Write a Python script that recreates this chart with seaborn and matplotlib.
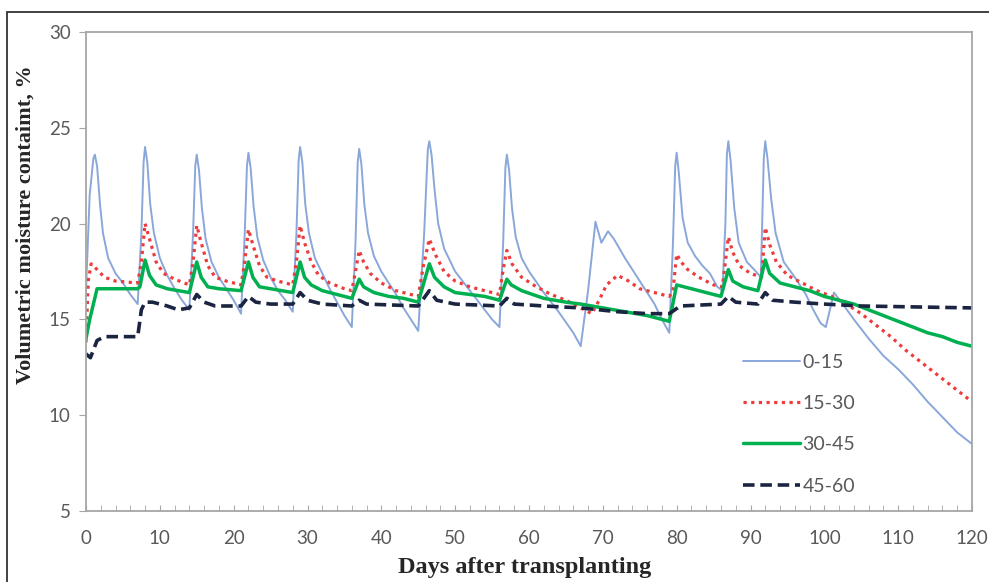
import numpy as np
import pandas as pd
import seaborn as sns
import matplotlib.pyplot as plt
import matplotlib.ticker as mtick
from matplotlib.patches import Rectangle

# ---- data: (day, volumetric moisture %) ----
days_0_15 = [0, 0.5, 1.0, 1.2, 1.5, 1.9, 2.3, 3, 4, 5, 6, 7,
             7.5, 7.8, 8, 8.3, 8.7, 9.2, 10, 11, 12, 13, 14,
             14.5, 14.8, 15, 15.3, 15.7, 16.2, 17, 18, 19, 20, 21,
             21.5, 21.8, 22, 22.3, 22.7, 23.2, 24, 25, 26, 27, 28,
             28.5, 28.8, 29, 29.3, 29.7, 30.2, 31, 32, 33, 34, 35, 36,
             36.5, 36.8, 37, 37.3, 37.7, 38.2, 39, 40, 41, 42, 43, 44, 45,
             45.8, 46.3, 46.5, 46.8, 47.2, 47.7, 48.5, 50, 51, 52, 53, 54, 55, 56,
             56.5, 56.8, 57, 57.3, 57.7, 58.2, 59, 60, 62, 64, 66, 67,
             68, 69, 69.8, 70.7, 71.5, 73, 75, 77, 78, 79,
             79.5, 79.8, 80, 80.3, 80.8, 81.5, 82.5, 83.5, 84.5, 85.5, 86.2,
             86.6, 86.8, 87, 87.3, 87.8, 88.4, 89.5, 90.5, 91.4,
             91.8, 92, 92.3, 92.8, 93.4, 94.5, 96, 97.5, 98.5, 99.5, 100.2,
             101.3, 102.5, 104, 106, 108, 110, 112, 114, 116, 118, 120]
vals_0_15 = [16.5, 21.5, 23.4, 23.6, 23.0, 21.0, 19.5, 18.2, 17.4, 16.9, 16.3, 15.8,
             19.5, 23.2, 24.0, 23.2, 21.0, 19.5, 18.2, 17.3, 16.6, 16.0, 15.5,
             19.5, 23.0, 23.6, 22.8, 20.8, 19.2, 18.0, 17.2, 16.6, 16.0, 15.3,
             19.5, 23.0, 23.7, 22.9, 20.9, 19.3, 18.1, 17.2, 16.5, 16.0, 15.4,
             19.5, 23.3, 24.0, 23.2, 21.0, 19.5, 18.2, 17.4, 16.6, 15.9, 15.2, 14.6,
             19.0, 23.2, 23.9, 23.1, 21.0, 19.5, 18.3, 17.5, 16.9, 16.3, 15.6, 15.0, 14.4,
             19.5, 23.9, 24.3, 23.6, 21.8, 20.0, 18.7, 17.5, 17.0, 16.5, 16.0, 15.5, 15.0, 14.6,
             19.0, 22.9, 23.6, 22.8, 20.8, 19.3, 18.2, 17.5, 16.4, 15.4, 14.3, 13.6,
             16.5, 20.1, 19.0, 19.6, 19.2, 18.2, 17.0, 15.8, 15.0, 14.3,
             19.0, 23.0, 23.7, 22.6, 20.3, 19.0, 18.3, 17.8, 17.4, 16.7, 16.5,
             20.0, 23.6, 24.3, 23.3, 20.8, 19.0, 18.0, 17.6, 17.2,
             23.4, 24.3, 23.4, 21.3, 19.5, 18.0, 17.2, 16.3, 15.5, 14.8, 14.6,
             16.4, 15.8, 15.0, 14.0, 13.1, 12.4, 11.6, 10.7, 9.9, 9.1, 8.5]

days_15_30 = [0, 0.3, 0.7, 1.5, 2.5, 4, 7,
              7.5, 8, 8.6, 9.5, 10.5, 12, 14,
              14.5, 15, 15.6, 16.5, 17.5, 19, 21,
              21.5, 22, 22.6, 23.5, 24.5, 26, 28,
              28.5, 29, 29.6, 30.5, 31.5, 33, 35, 36,
              36.5, 37, 37.6, 38.5, 40, 42, 44, 45,
              45.7, 46.5, 47.3, 48.5, 50, 52, 54, 56,
              56.5, 57, 57.7, 59, 61, 63, 65, 67, 68.5,
              69.5, 70.5, 72, 73.5, 75, 77, 79,
              79.5, 80, 80.6, 81.5, 83, 85, 86.2,
              86.6, 87, 87.6, 88.5, 90, 91.5,
              92, 92.6, 93.5, 95, 97, 99, 101, 103, 105, 107, 109, 111, 113, 115, 117, 119, 120]
vals_15_30 = [13.8, 17.0, 17.9, 17.6, 17.2, 17.0, 16.9,
              18.0, 20.0, 19.2, 18.0, 17.4, 17.1, 16.8,
              18.0, 19.9, 19.0, 17.8, 17.2, 17.0, 16.8,
              18.0, 19.7, 18.9, 17.8, 17.2, 17.0, 16.8,
              18.0, 19.9, 19.0, 18.0, 17.3, 16.9, 16.6, 16.5,
              17.5, 18.6, 18.0, 17.4, 16.9, 16.5, 16.3, 16.2,
              17.8, 19.2, 18.4, 17.5, 17.0, 16.7, 16.5, 16.3,
              17.6, 18.6, 17.9, 17.2, 16.7, 16.3, 16.0, 15.6, 15.3,
              16.0, 16.8, 17.3, 17.0, 16.6, 16.4, 16.2,
              16.5, 18.4, 18.0, 17.6, 17.2, 16.8, 16.7,
              18.0, 19.3, 18.5, 17.8, 17.4, 17.2,
              19.8, 18.9, 18.0, 17.3, 16.9, 16.5, 16.2, 15.8, 15.3, 14.7, 14.1, 13.4, 12.8, 12.2, 11.6, 11.0, 10.7]

days_30_45 = [0, 0.5, 1.5, 4, 7, 7.3,
              8, 8.6, 9.5, 11, 14,
              15, 15.6, 16.5, 18, 21,
              22, 22.6, 23.5, 25, 28,
              29, 29.6, 30.5, 32, 34, 36,
              37, 37.6, 39, 41, 43, 45,
              46.5, 47.2, 48.5, 50, 52, 54, 56,
              57, 57.6, 59, 62, 65, 67, 70, 73, 76, 79,
              80, 82, 84, 86,
              87, 87.6, 89, 91,
              92, 92.6, 94, 96, 98, 100, 102, 104, 106, 108, 110, 112, 114, 116, 118, 120]
vals_30_45 = [14.0, 15.0, 16.6, 16.6, 16.6, 16.7,
              18.1, 17.3, 16.8, 16.6, 16.4,
              18.0, 17.2, 16.7, 16.6, 16.5,
              18.0, 17.2, 16.7, 16.6, 16.4,
              18.0, 17.2, 16.8, 16.5, 16.3, 16.1,
              17.1, 16.7, 16.4, 16.2, 16.1, 15.9,
              17.9, 17.2, 16.7, 16.4, 16.3, 16.2, 16.0,
              17.1, 16.8, 16.5, 16.1, 15.9, 15.8, 15.6, 15.4, 15.2, 14.9,
              16.8, 16.6, 16.4, 16.2,
              17.6, 17.0, 16.7, 16.5,
              18.1, 17.4, 16.9, 16.7, 16.5, 16.2, 16.0, 15.8, 15.5, 15.2, 14.9, 14.6, 14.3, 14.1, 13.8, 13.6]

days_45_60 = [0, 0.6, 1.5, 2.5, 7, 7.5, 8, 9, 11, 12.5, 14,
              15, 16, 17.5, 21, 22, 23, 25, 28, 29, 30, 32, 36,
              37, 38, 45, 46.5, 47.5, 50, 56, 57, 58, 62, 67, 72, 76, 79,
              80.5, 86, 87, 88, 91, 92, 93, 96, 100, 105, 120]
vals_45_60 = [13.2, 13.0, 13.9, 14.1, 14.1, 15.5, 15.9, 15.9, 15.7, 15.5, 15.6,
              16.3, 15.9, 15.7, 15.7, 16.2, 15.9, 15.8, 15.8, 16.4, 16.0, 15.8, 15.7,
              16.0, 15.8, 15.7, 16.5, 16.0, 15.8, 15.7, 16.1, 15.8, 15.7, 15.6, 15.4, 15.3, 15.3,
              15.7, 15.8, 16.2, 15.9, 15.8, 16.4, 16.0, 15.9, 15.8, 15.7, 15.6]

series = [("0-15", days_0_15, vals_0_15),
          ("15-30", days_15_30, vals_15_30),
          ("30-45", days_30_45, vals_30_45),
          ("45-60", days_45_60, vals_45_60)]

styles = {"0-15": dict(color="#8AA7DA", lw=1.4, ls="-"),
          "15-30": dict(color="#EE3B3B", lw=2.3, ls=(0, (1, 1.4))),
          "30-45": dict(color="#00B050", lw=2.5, ls="-"),
          "45-60": dict(color="#1B2440", lw=2.6, ls=(0, (3.2, 1.6)))}

sns.set_style("white")
plt.rcParams['font.family'] = ['Lato', 'DejaVu Sans']

fig = plt.figure(figsize=(9.89, 5.82), dpi=100)
ax = fig.add_axes([86/989, 1-511/582, (972-86)/989, (511-32)/582])

for name, d, v in series:
    df = pd.DataFrame({"day": d, "vmc": v})
    st = styles[name]
    sns.lineplot(data=df, x="day", y="vmc", ax=ax, sort=False, estimator=None,
                 color=st["color"], linewidth=st["lw"], linestyle=st["ls"], label=name)

ax.set_xlim(0, 120)
ax.set_ylim(5, 30)
ax.xaxis.set_major_locator(mtick.MultipleLocator(10))
ax.xaxis.set_minor_locator(mtick.MultipleLocator(2))
ax.yaxis.set_major_locator(mtick.MultipleLocator(5))

for s in ax.spines.values():
    s.set_color("#A6A6A6")
    s.set_linewidth(1.3)

ax.tick_params(axis="x", which="both", direction="in", length=4, color="#A6A6A6",
               labelsize=13.5, labelcolor="#595959", pad=14, bottom=True)
ax.tick_params(axis="y", which="major", direction="out", length=5, color="#A6A6A6",
               labelsize=13.5, labelcolor="#595959", pad=6, left=True)

ax.set_xlabel("Days after transplanting", family=["Liberation Serif"], fontweight="bold",
              fontsize=17.5)
ax.xaxis.set_label_coords(0.495, -0.095)
ax.xaxis.label.set_va("top")
ax.set_ylabel("Volumetric moisture contaimt, %", family=["Liberation Serif"], fontweight="bold",
              fontsize=16)
ax.yaxis.set_label_coords(-0.057, 0.597)

leg = ax.legend(loc="upper left", bbox_to_anchor=(0.722, 0.365), frameon=False,
                fontsize=14, handlelength=2.9, handletextpad=0.15, labelspacing=1.25)
for t in leg.get_texts():
    t.set_color("#595959")

# outer frame of the figure
fig.patches.append(Rectangle((7/989, -0.2), 1.2, 1.2 - 12/582, transform=fig.transFigure,
                             fill=False, edgecolor="#333333", linewidth=1.3, zorder=0))

fig.savefig("out.png", dpi=100)
